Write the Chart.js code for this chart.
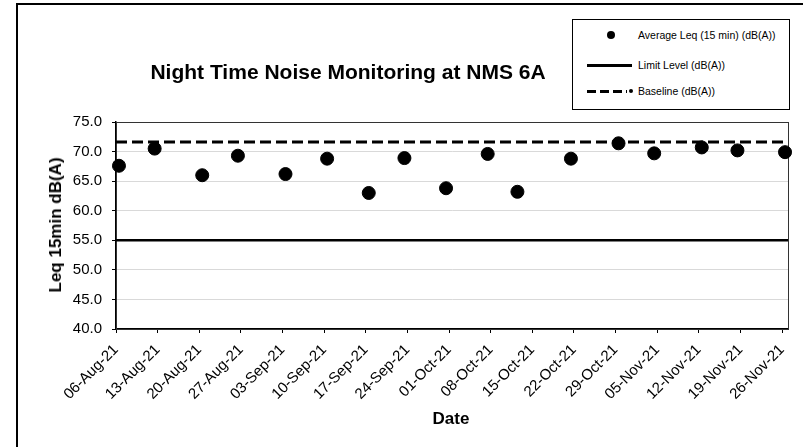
<!DOCTYPE html>
<html>
<head>
<meta charset="utf-8">
<script src="https://cdn.jsdelivr.net/npm/chart.js@4.4.0/dist/chart.umd.min.js"></script>
<style>
  body { margin: 0; background: #fff; font-family: "Liberation Sans", Arial, sans-serif; color: #000; }
  #wrap { position: relative; width: 803px; height: 447px; overflow: hidden; }
  #frame { position: absolute; left: 16px; top: 3px; width: 900px; height: 600px; border-left: 2px solid #000; border-top: 2px solid #000; }
  #chart { position: absolute; left: 0; top: 0; }
  .title { position: absolute; left: 0; top: 59px; width: 696px; text-align: center; font-weight: bold; font-size: 21px; line-height: 26px; }
  .ytitle { position: absolute; left: 56px; top: 225px; transform: translate(-50%, -50%) rotate(-90deg); white-space: nowrap; font-weight: bold; font-size: 17px; }
  .xtitle { position: absolute; left: 0; top: 408px; width: 902px; text-align: center; font-weight: bold; font-size: 17px; line-height: 22px; }
  .legend { position: absolute; left: 572px; top: 19px; width: 216px; height: 89px; border: 1px solid #000; background: #fff; }
  .leg-item { position: absolute; left: 0; width: 216px; height: 14px; font-size: 10.5px; line-height: 14px; }
  .leg-item span { position: absolute; left: 65px; top: 0; white-space: nowrap; }
  .mk-dot { position: absolute; left: 34px; top: 3px; width: 8px; height: 8px; border-radius: 50%; background: #000; }
  .mk-line { position: absolute; left: 14px; top: 6px; width: 45px; height: 3px; background: #000; }
  .mk-dash { position: absolute; left: 14px; top: 6px; width: 40px; height: 3px; background: repeating-linear-gradient(90deg, #000 0 9px, transparent 9px 13px); }
  .mk-end { position: absolute; left: 56px; top: 5px; width: 4px; height: 4px; border-radius: 50%; background: #000; }
</style>
</head>
<body>
<div id="wrap">
  <div id="frame"></div>
  <canvas id="chart" width="803" height="447"></canvas>
  <div class="title">Night Time Noise Monitoring at NMS 6A</div>
  <div class="ytitle">Leq 15min dB(A)</div>
  <div class="xtitle">Date</div>
  <div class="legend">
    <div class="leg-item" style="top:8px"><div class="mk-dot"></div><span>Average Leq (15 min) (dB(A))</span></div>
    <div class="leg-item" style="top:38px"><div class="mk-line"></div><span>Limit Level (dB(A))</span></div>
    <div class="leg-item" style="top:64px"><div class="mk-dash"></div><div class="mk-end"></div><span>Baseline (dB(A))</span></div>
  </div>
</div>
<script>
// axis range (dates) and weekly tick dates
const axisStart = '2021-08-06';
const axisEnd = '2021-11-27';
const tickDates = ['2021-08-06', '2021-08-13', '2021-08-20', '2021-08-27', '2021-09-03', '2021-09-10',
  '2021-09-17', '2021-09-24', '2021-10-01', '2021-10-08', '2021-10-15', '2021-10-22', '2021-10-29',
  '2021-11-05', '2021-11-12', '2021-11-19', '2021-11-26'];
const monthNames = ['Jan', 'Feb', 'Mar', 'Apr', 'May', 'Jun', 'Jul', 'Aug', 'Sep', 'Oct', 'Nov', 'Dec'];

// measurements (night readings, around midday-of-date on the axis)
const readingDates = ['2021-08-06T12:00', '2021-08-12T12:00', '2021-08-20T12:00', '2021-08-26T12:00',
  '2021-09-03T12:00', '2021-09-10T12:00', '2021-09-17T12:00', '2021-09-23T12:00', '2021-09-30T12:00',
  '2021-10-07T12:00', '2021-10-12T12:00', '2021-10-21T12:00', '2021-10-29T12:00', '2021-11-04T12:00',
  '2021-11-12T12:00', '2021-11-18T12:00', '2021-11-26T12:00'];
const avgLeq = [67.6, 70.5, 66.0, 69.3, 66.2, 68.8, 63.0, 68.9, 63.8, 69.6, 63.2, 68.8, 71.4, 69.7, 70.7, 70.2, 69.9];
const limitLevel = 55.0;
const baselineLevel = 71.6;

const yMin = 40, yMax = 75, yStep = 5;

const DAY = 86400000;
const toDay = s => (Date.parse(s + (s.length === 10 ? 'T00:00Z' : 'Z')) - Date.parse(axisStart + 'T00:00Z')) / DAY;
const fmtDay = d => {
  const dt = new Date(Date.parse(axisStart + 'T00:00Z') + Math.round(d) * DAY);
  const dd = String(dt.getUTCDate()).padStart(2, '0');
  return dd + '-' + monthNames[dt.getUTCMonth()] + '-' + String(dt.getUTCFullYear()).slice(2);
};
const span = toDay(axisEnd);

// plot area border (Excel-style box)
const plotBox = {
  id: 'plotBox',
  beforeDatasetsDraw(chart) {
    const a = chart.chartArea, c = chart.ctx;
    c.save();
    c.strokeStyle = '#333';
    c.lineWidth = 1;
    c.strokeRect(Math.round(a.left) + 0.5, Math.round(a.top) + 0.5, Math.round(a.right - a.left), Math.round(a.bottom - a.top));
    c.restore();
  }
};

new Chart(document.getElementById('chart'), {
  type: 'scatter',
  data: {
    datasets: [
      { label: 'Average Leq (15 min) (dB(A))', data: readingDates.map((d, i) => ({ x: toDay(d), y: avgLeq[i] })),
        backgroundColor: '#000', borderColor: '#000', pointRadius: 6.5, pointHoverRadius: 6.5, clip: false, order: 0 },
      { label: 'Limit Level (dB(A))', type: 'line', data: [{ x: 0, y: limitLevel }, { x: span, y: limitLevel }],
        borderColor: '#000', borderWidth: 2.5, pointRadius: 0, order: 2 },
      { label: 'Baseline (dB(A))', type: 'line', data: [{ x: 0, y: baselineLevel }, { x: span, y: baselineLevel }],
        borderColor: '#000', borderWidth: 3, borderDash: [11, 5], pointRadius: 0, order: 1 }
    ]
  },
  options: {
    responsive: false,
    animation: false,
    layout: { padding: { top: 122, right: 15, left: 0, bottom: 0 } },
    plugins: { legend: { display: false }, tooltip: { enabled: false } },
    scales: {
      x: {
        type: 'linear', min: 0, max: span,
        afterFit(s) { s.height = 118; },
        afterBuildTicks(s) { s.ticks = tickDates.map(d => ({ value: toDay(d) })); },
        ticks: { autoSkip: false, minRotation: 45, maxRotation: 45, callback: v => fmtDay(v),
          font: { family: 'Liberation Sans', size: 15 }, color: '#000', padding: 8 },
        grid: { drawOnChartArea: false, tickLength: 4, tickColor: '#000' },
        border: { color: '#000', width: 1.5 }
      },
      y: {
        min: yMin, max: yMax,
        afterFit(s) { s.width = 116; },
        ticks: { stepSize: yStep, callback: v => v.toFixed(1), font: { family: 'Liberation Sans', size: 15 }, color: '#000', padding: 10 },
        grid: { color: '#d9d9d9', tickLength: 4, tickColor: '#000' },
        border: { color: '#000', width: 1.5 }
      }
    }
  },
  plugins: [plotBox]
});
</script>
</body>
</html>
